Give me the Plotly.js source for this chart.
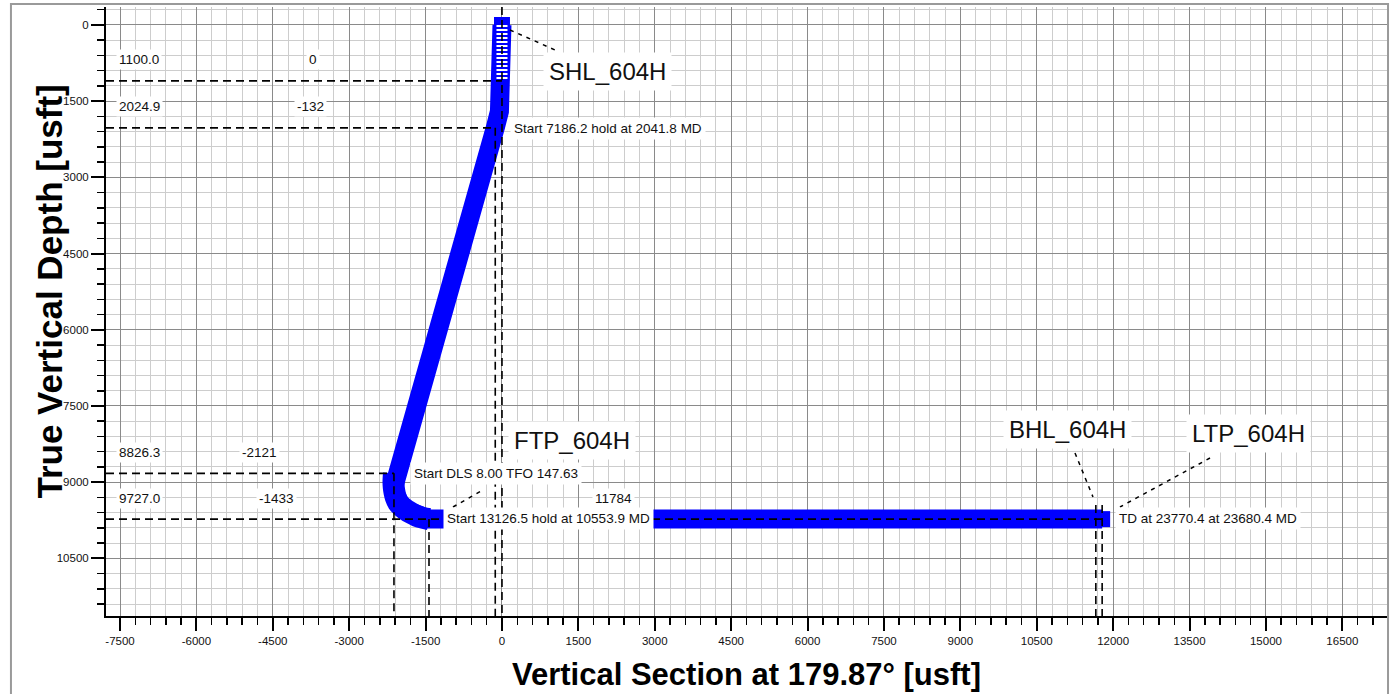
<!DOCTYPE html>
<html>
<head>
<meta charset="utf-8">
<script src="https://cdn.plot.ly/plotly-3.0.1.min.js"></script>
<style>
  html, body { margin: 0; padding: 0; background: #ffffff; }
  #chart { width: 1391px; height: 694px; }
</style>
</head>
<body>
<div id="chart"></div>
<script>
// ---- Well path ----
const pathVS  = [0, 0, -12, -50, -132, -2121, -2130, -2125, -2110, -2085, -2040, -1970, -1880, -1780, -1680, -1560, -1433, 11784];
const pathTVD = [0, 1100, 1400, 1700, 2024.9, 8826.3, 9000, 9100, 9200, 9300, 9400, 9480, 9550, 9610, 9660, 9700, 9727.0, 9727.0];

// ---- Key points with dashed reference lines ----
const keyTVD = [1100.0, 2024.9, 8826.3, 9727.0];
const keyVS  = [0, -132, -2121, -1433];
const keyTVDLabels = ["1100.0", "2024.9", "8826.3", "9727.0"];
const keyVSLabels  = ["0", "-132", "-2121", "-1433"];

// ---- Target / end points ----
const lateralEndVS = 11784;
const lateralEndLabel = "11784";
const bhlVS = 11660;
const ltpVS = 11784;

// ---- Tick values ----
const xTicks = [-7500, -6000, -4500, -3000, -1500, 0, 1500, 3000, 4500, 6000, 7500, 9000, 10500, 12000, 13500, 15000, 16500];
const yTicks = [0, 1500, 3000, 4500, 6000, 7500, 9000, 10500];

const X_RANGE = [-7775, 17377];
const Y_RANGE = [11634, -354];

const FONT = "Liberation Sans, Arial, Helvetica, sans-serif";

// dashed reference lines (horizontal from left axis to the point, vertical from point to bottom)
const hx = [], hy = [];
for (let i = 0; i < keyTVD.length; i++) {
  const xEnd = (i === keyTVD.length - 1) ? lateralEndVS : keyVS[i];
  hx.push(X_RANGE[0], xEnd, null);
  hy.push(keyTVD[i], keyTVD[i], null);
}
const vx = [], vy = [];
vx.push(0, 0, null); vy.push(Y_RANGE[1], Y_RANGE[0], null);
for (let i = 1; i < keyVS.length; i++) {
  vx.push(keyVS[i], keyVS[i], null);
  vy.push(keyTVD[i], Y_RANGE[0], null);
}
[bhlVS, ltpVS].forEach(v => { vx.push(v, v, null); vy.push(9450, Y_RANGE[0], null); });

const last = pathVS.length - 1;
const curveStart = pathTVD.indexOf(8826.3);
const curveEnd = pathTVD.indexOf(9727.0);

const traces = [
  {
    x: pathVS, y: pathTVD, type: "scatter", mode: "lines",
    line: { color: "#0000ff", width: 19 },
    hoverinfo: "skip", showlegend: false
  },
  {
    // build curve: the stacked square survey marks make the band fatter here
    x: pathVS.slice(curveStart, curveEnd + 1), y: pathTVD.slice(curveStart, curveEnd + 1),
    type: "scatter", mode: "lines",
    line: { color: "#0000ff", width: 22, shape: "spline", smoothing: 1 },
    hoverinfo: "skip", showlegend: false
  },
  {
    // square survey marks at the surface and at TD
    x: [pathVS[0], pathVS[last]], y: [pathTVD[0], pathTVD[last]], type: "scatter", mode: "markers",
    marker: { symbol: "square", size: 16, color: "#0000ff" },
    hoverinfo: "skip", showlegend: false
  },
  {
    // hollow look of the stacked survey squares in the vertical section
    x: pathVS.slice(0, 2), y: pathTVD.slice(0, 2), type: "scatter", mode: "lines",
    line: { color: "#ffffff", width: 11, dash: "2px,2px" },
    hoverinfo: "skip", showlegend: false
  },
  {
    x: hx, y: hy, type: "scatter", mode: "lines",
    line: { color: "#000000", width: 1.8, dash: "8px,5px" },
    hoverinfo: "skip", showlegend: false
  },
  {
    x: vx, y: vy, type: "scatter", mode: "lines",
    line: { color: "#000000", width: 1.6, dash: "8px,5px" },
    hoverinfo: "skip", showlegend: false
  }
];

const ann = [];
const small = { family: FONT, size: 13.5, color: "#111111" };
const big = { family: FONT, size: 24, color: "#111111" };

for (let i = 0; i < keyTVD.length; i++) {
  ann.push({ x: -7579, y: keyTVD[i], text: keyTVDLabels[i], xanchor: "left", yanchor: "middle",
             yshift: 21, showarrow: false, font: small, bgcolor: "#ffffff", borderpad: 2 });
}
const vsLabelX = [-3713, -3750, -4752, -4437];
for (let i = 0; i < keyVS.length; i++) {
  ann.push({ x: vsLabelX[i], y: keyTVD[i], text: keyVSLabels[i], xanchor: "center", yanchor: "middle",
             yshift: 21, showarrow: false, font: small, bgcolor: "#ffffff", borderpad: 2 });
}
ann.push({ x: 2199, y: 9727, text: lateralEndLabel, xanchor: "center", yanchor: "middle", yshift: 21,
           showarrow: false, font: small, bgcolor: "#ffffff", borderpad: 2 });

ann.push({ x: 157, y: 2028, text: "Start 7186.2 hold at 2041.8 MD", xanchor: "left", yanchor: "middle",
           showarrow: false, font: small, bgcolor: "#ffffff", borderpad: 3 });
ann.push({ x: -1806, y: 8819, text: "Start DLS 8.00 TFO 147.63", xanchor: "left", yanchor: "middle",
           showarrow: false, font: small, bgcolor: "#ffffff", borderpad: 3 });
ann.push({ x: -1158, y: 9724, text: "Start 13126.5 hold at 10553.9 MD", xanchor: "left", yanchor: "middle",
           showarrow: false, font: small, bgcolor: "#ffffff", borderpad: 3 });
ann.push({ x: 12036, y: 9724, text: "TD at 23770.4 at 23680.4 MD", xanchor: "left", yanchor: "middle",
           showarrow: false, font: small, bgcolor: "#ffffff", borderpad: 3 });

ann.push({ x: 2062, y: 925, text: "SHL_604H", showarrow: false, font: big, bgcolor: "#ffffff", borderpad: 5 });
ann.push({ x: 1374, y: 8189, text: "FTP_604H", showarrow: false, font: big, bgcolor: "#ffffff", borderpad: 5 });
ann.push({ x: 11094, y: 7953, text: "BHL_604H", showarrow: false, font: big, bgcolor: "#ffffff", borderpad: 5 });
ann.push({ x: 14648, y: 8051, text: "LTP_604H", showarrow: false, font: big, bgcolor: "#ffffff", borderpad: 5 });

// y-axis title (placed as in the reference, slightly above the plot centre)
ann.push({ xref: "paper", yref: "paper", x: -0.0609, y: 0.5336, textangle: -90,
           text: "<b>True Vertical Depth [usft]</b>", showarrow: false,
           font: { family: FONT, size: 35, color: "#000000" } });

const leader = { color: "#000000", width: 1.5, dash: "4px,5px" };
const shapes = [
  { type: "line", xref: "x", yref: "y", x0: 157, y0: 98, x1: 1041, y1: 492, line: leader },
  { type: "line", xref: "x", yref: "y", x0: -962, y0: 9488, x1: -373, y1: 9154, line: leader },
  { type: "line", xref: "x", yref: "y", x0: 11251, y0: 8425, x1: 11604, y1: 9291, line: leader },
  { type: "line", xref: "x", yref: "y", x0: 13902, y0: 8524, x1: 12134, y1: 9488, line: leader },
  { type: "rect", xref: "paper", yref: "paper", x0: -0.0742, x1: 1.0008, y0: -0.2, y1: 1.0049,
    line: { color: "#9a9a9a", width: 2 }, fillcolor: "rgba(0,0,0,0)", layer: "above" }
];

const axisCommon = {
  showline: true, linecolor: "#000000", linewidth: 2,
  ticks: "outside", ticklen: 13, tickwidth: 2, tickcolor: "#000000",
  showgrid: true, gridcolor: "#8a8a8a", gridwidth: 1,
  zeroline: false,
  tickfont: { family: FONT, size: 11.5, color: "#111111" },
  minor: { tickmode: "linear", tick0: 0, dtick: 300, ticks: "outside", ticklen: 7, tickwidth: 1.5,
           tickcolor: "#000000", showgrid: true, gridcolor: "#cdcdcd", gridwidth: 1 }
};

const layout = {
  width: 1391, height: 694,
  margin: { l: 106, r: 4, t: 7, b: 78 },
  paper_bgcolor: "#ffffff", plot_bgcolor: "#ffffff",
  showlegend: false,
  xaxis: Object.assign({}, axisCommon, {
    range: X_RANGE, tickmode: "array", tickvals: xTicks, ticktext: xTicks.map(String),
    title: { text: "<b>Vertical Section at 179.87° [usft]</b>", font: { family: FONT, size: 31, color: "#000000" }, standoff: 18 }
  }),
  yaxis: Object.assign({}, axisCommon, {
    range: Y_RANGE, tickmode: "array", tickvals: yTicks, ticktext: yTicks.map(String)
  }),
  annotations: ann,
  shapes: shapes
};

Plotly.newPlot("chart", traces, layout, { displayModeBar: false, staticPlot: true });
</script>
</body>
</html>
